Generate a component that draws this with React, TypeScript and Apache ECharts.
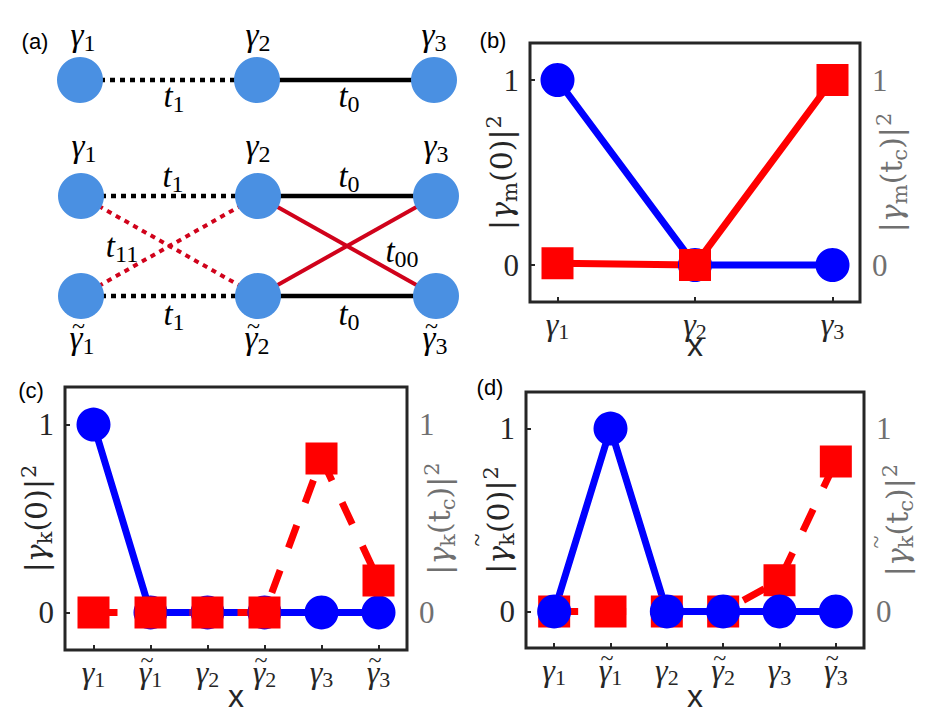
import React, { useEffect, useRef } from "react";
import * as echarts from "echarts";

// ---- data ----
const labelsB = ["γ1", "γ2", "γ3"];
const labelsCD = ["γ1", "γ\u03031", "γ2", "γ\u03032", "γ3", "γ\u03033"];
const bBlue = [1, 0, 0];
const bRed = [0.01, 0, 1];
const cBlue = [1, 0, 0, 0, 0, 0];
const cRed = [0, 0, 0, 0, 0.82, 0.17];
const dBlue = [0, 1, 0, 0, 0, 0];
const dRed = [0, 0, 0, 0, 0.17, 0.82];
const yTicks = [0, 1];

const SERIF = "Liberation Serif";
const NSERIF = "DejaVu Serif";
const SANS = "Liberation Sans";
const DARK = "#262626";
const GRAY = "#707070";
const BLUE = "#0000ff";
const RED = "#ff0000";
const NODE = "#4a90e2";
const LINKRED = "#d0021b";

function mathRich(color: string, key: "color" | "fill", gSize: number, sSize: number) {
  return {
    t: { fontFamily: SERIF, fontSize: 24, [key]: color, lineHeight: 8, padding: [0, 7, 0, 0], verticalAlign: "middle" },
    g: { fontFamily: SERIF, fontStyle: "italic", fontSize: gSize, [key]: color, lineHeight: 16, verticalAlign: "middle" },
    s: { fontFamily: SERIF, fontSize: sSize, [key]: color, lineHeight: 1, padding: [4, 0, 0, 0], verticalAlign: "top" },
  };
}

function nameRich(color: string, tildePad: number) {
  return {
    t: { fontFamily: SERIF, fontSize: 24, color, lineHeight: 6, padding: [0, tildePad, 0, 0], verticalAlign: "middle" },
    n: { fontFamily: NSERIF, fontSize: 30, color, lineHeight: 36, verticalAlign: "middle" },
    g: { fontFamily: NSERIF, fontStyle: "italic", fontSize: 30, color, lineHeight: 36, verticalAlign: "middle" },
    s: { fontFamily: NSERIF, fontSize: 21, color, lineHeight: 1, padding: [16, 0, 0, 0], verticalAlign: "top" },
    p: { fontFamily: NSERIF, fontSize: 21, color, lineHeight: 1, padding: [0, 0, 0, 1], verticalAlign: "top" },
  };
}

function mathText(lab: string) {
  const tilde = lab.includes("\u0303");
  const base = lab.replace("\u0303", "");
  return `{t|${tilde ? "~" : " "}}\n{g|${base.slice(0, 1)}}{s|${base.slice(1)}}`;
}

function tickFmt(labels: string[]) {
  return (v: number) => mathText(labels[Math.round(v)] ?? "");
}

function xAxisDef(grid: number, labels: string[], min: number, max: number, gap: number) {
  const vals = labels.map((_, i) => i);
  return {
    type: "value",
    gridIndex: grid,
    min,
    max,
    name: "x",
    nameLocation: "middle",
    nameGap: gap,
    nameMoveOverlap: false,
    nameTextStyle: { fontFamily: SANS, fontSize: 32, color: DARK },
    axisLine: { show: false, onZero: false },
    splitLine: { show: false },
    axisTick: { show: true, inside: true, length: 5, customValues: vals, lineStyle: { color: DARK, width: 2 } },
    axisLabel: { customValues: vals, formatter: tickFmt(labels), rich: mathRich(DARK, "color", 32, 22), margin: 6 },
  };
}

function yAxisDef(grid: number, pos: "left" | "right", tilde: boolean, body: string, gap: number) {
  const color = pos === "left" ? DARK : GRAY;
  return {
    type: "value",
    gridIndex: grid,
    position: pos,
    min: -0.2,
    max: 1.2,
    name: `{t|${tilde ? "~" : " "}}\n${body}`,
    nameLocation: "middle",
    nameRotate: 90,
    nameGap: gap,
    nameMoveOverlap: false,
    nameTextStyle: { rich: nameRich(color, pos === "left" ? 40 : 44) },
    axisLine: { show: false, onZero: false },
    splitLine: { show: false },
    axisTick: { show: pos === "left", inside: true, length: 5, customValues: yTicks, lineStyle: { color: DARK, width: 2 } },
    axisLabel: { customValues: yTicks, fontFamily: SERIF, fontSize: 31, color, margin: pos === "left" ? 11 : 12 },
  };
}

function seriesDef(values: number[], xi: number, yi: number, kind: "blue" | "red", dashed: boolean) {
  const color = kind === "blue" ? BLUE : RED;
  return {
    type: "line",
    xAxisIndex: xi,
    yAxisIndex: yi,
    data: values.map((v, i) => [i, v]),
    symbol: kind === "blue" ? "circle" : "rect",
    symbolSize: kind === "blue" ? 34 : 32,
    showSymbol: true,
    itemStyle: { color, opacity: 1 },
    lineStyle: { color, width: 7, type: dashed ? [24, 24] : "solid" },
    emphasis: { disabled: true },
  };
}

// ---- panel (a) diagram ----
function buildDiagram() {
  const els: any[] = [];
  const rich = mathRich("#000", "fill", 33, 24);
  const label = (x: number, y: number, lab: string) => {
    const tilde = lab.includes("\u0303");
    const base = lab.replace("\u0303", "");
    const text = tilde ? mathText(lab) : `{g|${base.slice(0, 1)}}{s|${base.slice(1)}}`;
    els.push({
      type: "text",
      x,
      y,
      z: 10,
      style: { text, rich, align: "center", verticalAlign: "middle" },
    });
  };
  const link = (a: number[], b: number[], color: string, dotted: boolean, w: number) =>
    els.push({
      type: "line",
      z: 1,
      shape: { x1: a[0], y1: a[1], x2: b[0], y2: b[1] },
      style: { stroke: color, lineWidth: w, lineDash: dotted ? [5, 5] : null },
    });
  const node = (p: number[]) => els.push({ type: "circle", z: 5, shape: { cx: p[0], cy: p[1], r: 23 }, style: { fill: NODE } });

  const T = [[80, 80], [257, 80], [434, 80]];
  const U = [[81, 196], [258, 196], [436, 196]];
  const L = [[81, 296], [258, 296], [436, 296]];

  link(T[0], T[1], "#000", true, 4.5);
  link(T[1], T[2], "#000", false, 4.5);
  link(U[0], U[1], "#000", true, 4.5);
  link(U[1], U[2], "#000", false, 4.5);
  link(L[0], L[1], "#000", true, 4.5);
  link(L[1], L[2], "#000", false, 4.5);
  link(U[0], L[1], LINKRED, true, 4);
  link(L[0], U[1], LINKRED, true, 4);
  link(U[1], L[2], LINKRED, false, 4);
  link(L[1], U[2], LINKRED, false, 4);
  [...T, ...U, ...L].forEach(node);

  label(83, 35, "γ1");
  label(258, 35, "γ2");
  label(434, 35, "γ3");
  label(174, 96, "t1");
  label(349, 96, "t0");
  label(84, 146, "γ1");
  label(258, 146, "γ2");
  label(436, 146, "γ3");
  label(173, 176, "t1");
  label(349, 176, "t0");
  label(122, 246, "t11");
  label(402, 251, "t00");
  label(174, 314, "t1");
  label(349, 314, "t0");
  label(82, 334, "γ\u03031");
  label(257, 334, "γ\u03032");
  label(435, 334, "γ\u03033");

  const panel = (x: number, y: number, t: string) =>
    els.push({
      type: "text",
      x,
      y,
      z: 20,
      style: { text: t, fontFamily: SANS, fontSize: 22, fill: "#000", align: "center", verticalAlign: "middle" },
    });
  panel(35, 41, "(a)");
  panel(493, 40, "(b)");
  panel(31, 390, "(c)");
  panel(490, 387, "(d)");
  return els;
}

export default function App() {
  const ref = useRef<HTMLDivElement>(null);
  useEffect(() => {
    if (!ref.current) return;
    const chart = echarts.init(ref.current, null, { renderer: "svg" });
    const gridStyle = { show: true, borderColor: DARK, borderWidth: 3, backgroundColor: "transparent", containLabel: false };
    const option = {
      animation: false,
      backgroundColor: "#ffffff",
      grid: [
        { ...gridStyle, left: 530, top: 43, width: 330, height: 259 },
        { ...gridStyle, left: 65, top: 387, width: 342, height: 266 },
        { ...gridStyle, left: 526, top: 392, width: 338, height: 261 },
      ],
      xAxis: [
        xAxisDef(0, labelsB, -0.2, 2.2, 27),
        xAxisDef(1, labelsCD, -0.5, 5.5, 30),
        xAxisDef(2, labelsCD, -0.5, 5.5, 32),
      ],
      yAxis: [
        yAxisDef(0, "left", false, "{n||}{g|γ}{s|m}{n|(0)|}{p|2}", 11),
        yAxisDef(0, "right", false, "{n||}{g|γ}{s|m}{n|(t}{s|c}{n|)|}{p|2}", 7),
        yAxisDef(1, "left", false, "{n||}{g|γ}{s|k}{n|(0)|}{p|2}", 11),
        yAxisDef(1, "right", false, "{n||}{g|γ}{s|k}{n|(t}{s|c}{n|)|}{p|2}", 8),
        yAxisDef(2, "left", true, "{n||}{g|γ}{s|k}{n|(0)|}{p|2}", 10),
        yAxisDef(2, "right", true, "{n||}{g|γ}{s|k}{n|(t}{s|c}{n|)|}{p|2}", 9),
      ],
      series: [
        seriesDef(bBlue, 0, 0, "blue", false),
        seriesDef(bRed, 0, 1, "red", false),
        seriesDef(cBlue, 1, 2, "blue", false),
        seriesDef(cRed, 1, 3, "red", true),
        seriesDef(dRed, 2, 5, "red", true),
        seriesDef(dBlue, 2, 4, "blue", false),
      ],
      graphic: buildDiagram(),
    };
    chart.setOption(option as any);
    return () => chart.dispose();
  }, []);
  return (
    <div
      ref={ref}
      style={{ position: "absolute", left: 0, top: 0, width: 926, height: 713, background: "#fff" }}
    />
  );
}
